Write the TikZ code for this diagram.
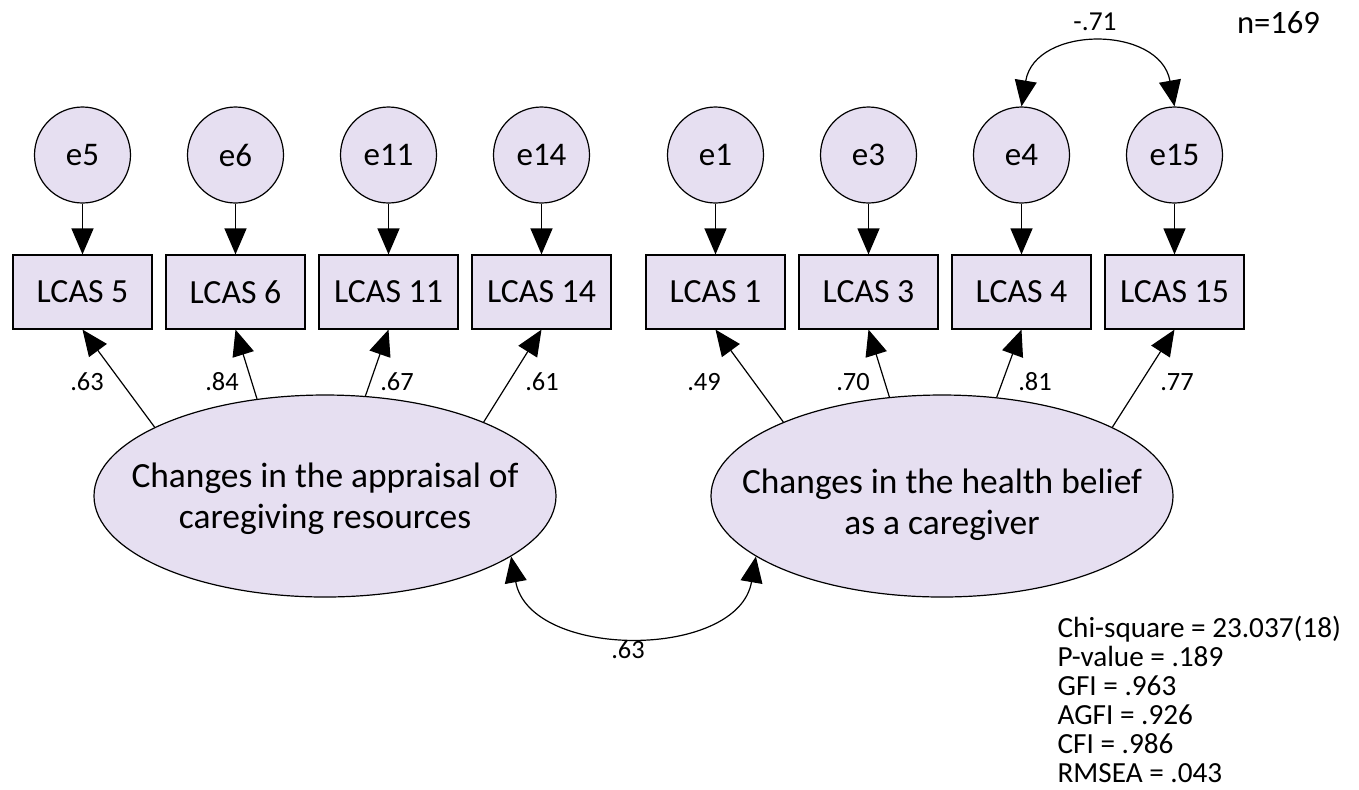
\documentclass[tikz,border=0pt]{standalone}
\usepackage{fontspec}
\setmainfont{Carlito}
\usetikzlibrary{arrows.meta,shapes.geometric}
\definecolor{lav}{RGB}{230,223,241}

\begin{document}
\begin{tikzpicture}[x=0.5pt,y=-0.5pt,line width=0.6pt]

  \tikzset{
    err/.style  = {circle, draw, fill=lav, minimum size=48pt, inner sep=0pt,
                   font=\fontsize{16.5}{19}\selectfont},
    obs/.style  = {rectangle, draw, fill=lav, minimum width=69.5pt,
                   minimum height=37pt, inner sep=0pt,
                   font=\fontsize{16.9}{20}\selectfont},
    lat/.style  = {ellipse, draw, fill=lav, minimum width=231pt,
                   minimum height=101pt, inner sep=0pt},
    latt/.style = {align=center, inner sep=0pt,
                   font=\fontsize{17.7}{20.5}\selectfont},
    wt/.style   = {font=\fontsize{13.2}{16}\selectfont, anchor=base,
                   inner sep=0pt},
    fitl/.style = {font=\fontsize{14.6}{17}\selectfont, anchor=base west,
                   inner sep=0pt},
    link/.style = {-{Triangle[length=13pt,width=11pt]}},
    cov/.style  = {{Triangle[length=13pt,width=11pt]}-{Triangle[length=13pt,width=11pt]}},
  }

  \useasboundingbox (0,0) rectangle (1359,789);

  % ---- error terms and indicators ---------------------------------------
  \foreach \n/\x in {5/82.5, 6/235.5, 11/388.5, 14/541.5,
                     1/715.5, 3/868.5, 4/1021.5, 15/1174.5} {
    \node[err] (e\n) at (\x,155) {e\n};
    \node[obs] (v\n) at (\x,292) {LCAS \n};
    \draw[link] (e\n) -- (v\n);
  }

  % ---- the two factors ---------------------------------------------------
  \node[lat] (app) at (325,496) {};
  \node[latt] (app-t) at (325,499)
    {Changes in the appraisal of\\caregiving resources};
  \node[lat] (hb) at (942,496) {};
  \node[latt] (hb-t) at (942,505)
    {Changes in the health belief\\as a caregiver};

  % ---- loadings ----------------------------------------------------------
  \foreach \f/\ang/\n/\w/\lx in {%
    app/158.5/5/.63/87, app/125/6/.84/222, app/68.6/11/.67/397,
    app/25.8/14/.61/542, hb/155.9/1/.49/704, hb/118.4/3/.70/853,
    hb/61.1/4/.81/1035, hb/22.1/15/.77/1177%
  }{
    \draw[link] (\f.\ang) -- (v\n.south);
    \node[wt] (w\n) at (\lx,390) {\w};
  }

  % ---- covariances -------------------------------------------------------
  \draw[cov] (app.-18.5) .. controls (530,660) and (738,660) .. (hb.198.5);
  \node[wt] (r1) at (628,658) {.63};
  \draw[cov] (e4.north) .. controls (1035,25) and (1160,25) .. (e15.north);
  \node[wt, font=\fontsize{13.7}{16}\selectfont] (r2) at (1095,30) {-.71};

  \node[wt, font=\fontsize{16.3}{18}\selectfont] (nn) at (1278.5,33) {n=169};

  % ---- fit ---------------------------------------------------------------
  \foreach \k/\t in {0/{Chi-square = 23.037(18)}, 1/{P-value = .189},
                     2/{GFI = .963}, 3/{AGFI = .926}, 4/{CFI = .986},
                     5/{RMSEA = .043}} {
    \node[fitl] (s\k) at (1057,637+\k*29) {\t};
  }

\end{tikzpicture}
\end{document}
